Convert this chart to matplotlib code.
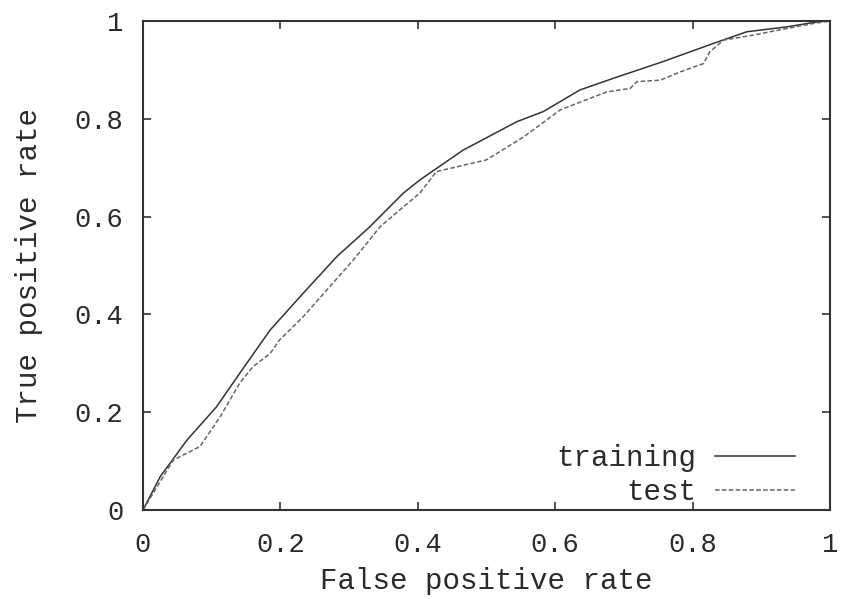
import matplotlib
matplotlib.use("Agg")
import matplotlib.pyplot as plt

# ROC curves
train_fpr = [0.0, 0.025, 0.064, 0.107, 0.141, 0.185, 0.233, 0.282, 0.33, 0.379, 0.403,
             0.466, 0.544, 0.583, 0.636, 0.685, 0.757, 0.83, 0.879, 0.937, 0.985, 1.0]
train_tpr = [0.0, 0.068, 0.143, 0.211, 0.28, 0.368, 0.443, 0.518, 0.579, 0.648, 0.675,
             0.736, 0.794, 0.815, 0.859, 0.883, 0.917, 0.954, 0.978, 0.988, 0.999, 1.0]

test_fpr = [0.0, 0.025, 0.044, 0.083, 0.112, 0.141, 0.16, 0.185, 0.199, 0.233, 0.272, 0.306,
            0.345, 0.379, 0.403, 0.427, 0.5, 0.554, 0.588, 0.607, 0.651, 0.675, 0.709, 0.719,
            0.753, 0.782, 0.816, 0.825, 0.845, 0.888, 0.927, 0.976, 1.0]
test_tpr = [0.0, 0.058, 0.102, 0.13, 0.19, 0.26, 0.293, 0.32, 0.348, 0.395, 0.457, 0.511,
            0.579, 0.62, 0.648, 0.692, 0.716, 0.763, 0.798, 0.818, 0.842, 0.855, 0.862, 0.876,
            0.879, 0.896, 0.913, 0.937, 0.961, 0.971, 0.982, 0.995, 1.0]

xticks = [0, 0.2, 0.4, 0.6, 0.8, 1]
xticklabels = ["0", "0.2", "0.4", "0.6", "0.8", "1"]
yticks = [0, 0.2, 0.4, 0.6, 0.8, 1]
yticklabels = ["0", "0.2", "0.4", "0.6", "0.8", "1"]

plt.rcParams["font.family"] = ["Liberation Mono", "DejaVu Sans Mono"]
plt.rcParams["font.size"] = 19.5

fig = plt.figure(figsize=(8.45, 5.99), dpi=100)
ax = fig.add_axes([143 / 845, 1 - 510 / 599, 687 / 845, 489 / 599])

ax.plot(train_fpr, train_tpr, color="#333333", lw=1.1, label="training")
ax.plot(test_fpr, test_tpr, color="#666666", lw=1.1, ls=(0, (3, 1.5)), label="test")

ax.set_xlim(0, 1)
ax.set_ylim(0, 1)
ax.set_xticks(xticks)
ax.set_xticklabels(xticklabels)
ax.set_yticks(yticks)
ax.set_yticklabels(yticklabels)
ax.tick_params(direction="in", top=True, right=True, length=6, width=1.2, color="#333333",
               labelcolor="#2a2a2a")
ax.tick_params(axis="x", pad=16)
ax.tick_params(axis="y", pad=14)
for s in ax.spines.values():
    s.set_linewidth(1.5)
    s.set_color("#333333")

ax.set_xlabel("False positive rate", fontsize=21, labelpad=6, color="#2a2a2a")
ax.set_ylabel("True positive rate", fontsize=21, labelpad=23, color="#2a2a2a")

ax.legend(loc="lower right", frameon=False, markerfirst=False, fontsize=21,
          handlelength=2.75, handletextpad=0.65, labelspacing=0.2,
          borderpad=0, borderaxespad=0, labelcolor="#2a2a2a",
          bbox_to_anchor=((795 - 143) / 687, 4 / 489))

fig.savefig("out.png", dpi=100)
